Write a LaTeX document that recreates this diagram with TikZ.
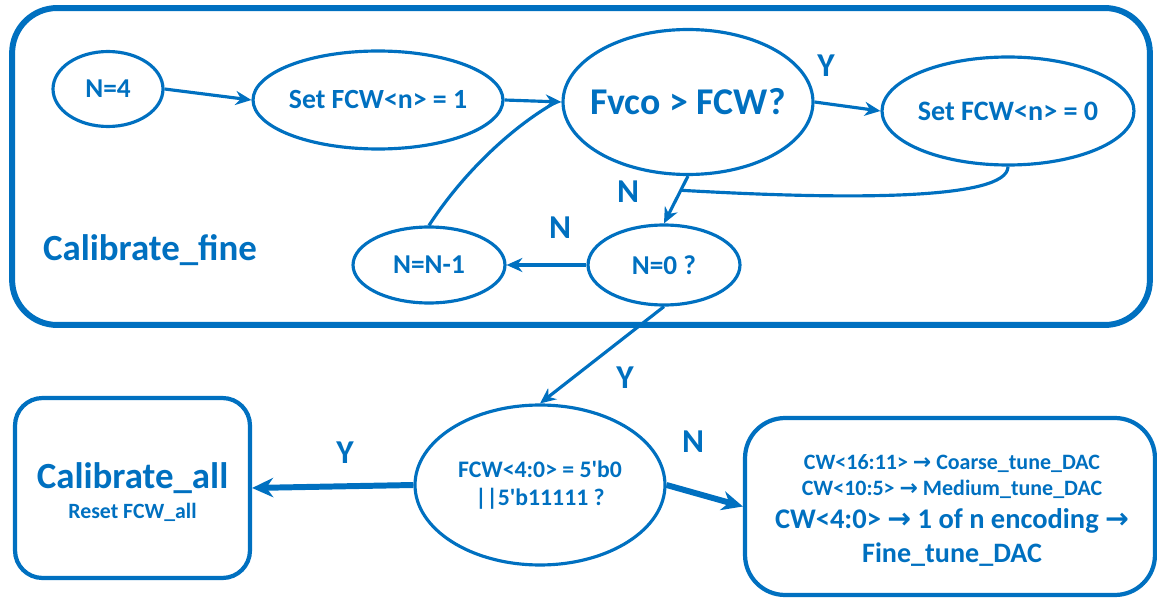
\documentclass[tikz,border=0pt]{standalone}
\usepackage{fontspec}
\setmainfont{Carlito}
\newfontfamily\dvs{DejaVu Sans}
\usetikzlibrary{shapes.geometric,arrows.meta}
\definecolor{blu}{HTML}{0070C0}
\newcommand{\fs}[1]{\fontsize{#1}{1.2\dimexpr#1pt\relax}\selectfont}
\newcommand{\ra}{{\dvs\bfseries →}}
\tikzset{
  ell/.style={ellipse, draw=blu, line width=1.8pt, inner sep=-1.5cm, text=blu, font=\bfseries, align=center},
  box/.style={rectangle, draw=blu, line width=2.4pt},
  txt/.style={text=blu, font=\bfseries, inner sep=0pt, anchor=base},
  conn/.style={draw=blu, line width=1.8pt, -{Stealth[length=9pt,width=8pt]}},
  thickconn/.style={draw=blu, line width=3.4pt, -{Stealth[length=12pt,width=11pt]}},
  lbl/.style={text=blu, font=\bfseries\fs{19}},
}
\begin{document}
\begin{tikzpicture}[x=0.02cm,y=-0.02cm]
\useasboundingbox (0,0) rectangle (1157,598);

% calibration loop frame
\node[box, line width=3.4pt, rounded corners=0.9cm, minimum width=22.76cm, minimum height=6.34cm] (frame) at (581,166.5) {};
\node[text=blu, font=\bfseries\fs{21}] (title) at (150,250) {Calibrate\_fine};

% states inside the loop
\node[ell, minimum width=2.2cm, minimum height=1.5cm, font=\bfseries\fs{15.5}] (n4) at (108,89) {N=4};
\node[ell, minimum width=5cm, minimum height=1.96cm, font=\bfseries\fs{15.8}] (set1) at (378,100) {Set FCW<n> = 1};
\node[ell, minimum width=5cm, minimum height=2.9cm, font=\bfseries\fs{21.5}] (fvco) at (688,102) {Fvco > FCW?};
\node[ell, minimum width=5.04cm, minimum height=2.16cm, font=\bfseries\fs{16}] (set0) at (1008,111) {Set FCW<n> = 0};
\node[ell, minimum width=3.04cm, minimum height=1.6cm, font=\bfseries\fs{15.5}] (n0) at (664,265) {N=0 ?};
\node[ell, minimum width=3.04cm, minimum height=1.52cm, font=\bfseries\fs{15.5}] (nm1) at (429,265) {N=N-1};

% final decision
\node[ell, minimum width=5cm, minimum height=3.2cm, font=\bfseries\fs{13.5}] (fcw) at (540,485)
  {FCW<4:0> = 5\textquotesingle b0\\||5\textquotesingle b11111 ?};

% full recalibration outcome
\node[box, rounded corners=0.55cm, minimum width=4.7cm, minimum height=3.6cm] (calall) at (132.5,488) {};
\node[txt, font=\bfseries\fs{21}] (calalltitle) at (132.5,488) {Calibrate\_all};
\node[txt, font=\bfseries\fs{12.4}] (calallsub) at (132.5,518) {Reset FCW\_all};

% DAC mapping outcome
\node[box, rounded corners=0.8cm, minimum width=8.2cm, minimum height=3.54cm] (dac) at (950,506.5) {};
\node[txt, font=\bfseries\fs{12.5}] (dacl1) at (952,469) {CW<16:11> \ra{} Coarse\_tune\_DAC};
\node[txt, font=\bfseries\fs{12.5}] (dacl2) at (952,495) {CW<10:5> \ra{} Medium\_tune\_DAC};
\node[txt, font=\bfseries\fs{16.2}] (dacl3) at (952,528) {CW<4:0> \ra{} 1 of n encoding \ra};
\node[txt, font=\bfseries\fs{16}] (dacl4) at (952,562) {Fine\_tune\_DAC};

% connectors
\draw[conn] (n4.east) -- (set1.west);
\draw[conn] (set1.east) -- (fvco.west);
\draw[draw=blu, line width=1.8pt] (nm1.north) .. controls (465,170) and (515,125) .. ([xshift=-3pt]fvco.west);
\draw[conn] (fvco.east) -- (set0.west);
\draw[conn] (fvco.south) -- coordinate[pos=0.3] (join) (n0.north);
\draw[draw=blu, line width=1.8pt] (set0.south) .. controls (1008,200) and (850,200) .. (join);
\draw[conn] (n0.west) -- (nm1.east);
\draw[conn] (n0.south) -- (fcw.north);
\draw[thickconn] (fcw.west) -- (calall.east);
\draw[thickconn] (fcw.east) -- (dac.west);

% branch labels
\node[lbl] (y1) at (826,66) {Y};
\node[lbl] (n1) at (628,192) {N};
\node[lbl] (n2) at (560,228) {N};
\node[lbl] (y2) at (625,378) {Y};
\node[lbl] (y3) at (345,453) {Y};
\node[lbl] (n3) at (693,442) {N};
\end{tikzpicture}
\end{document}
